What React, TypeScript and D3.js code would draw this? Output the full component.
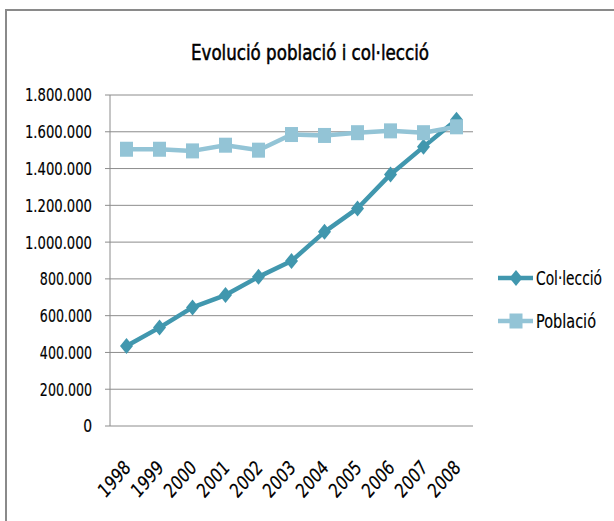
import React from "react";
import * as d3 from "d3";

const years = ["1998","1999","2000","2001","2002","2003","2004","2005","2006","2007","2008"];
const colleccio = [435000, 535000, 645000, 712000, 811000, 897000, 1056000, 1183000, 1368000, 1518000, 1665000];
const poblacio = [1505000, 1505000, 1496000, 1527000, 1500000, 1585000, 1580000, 1595000, 1605000, 1595000, 1627000];
const yTicks = [0, 200000, 400000, 600000, 800000, 1000000, 1200000, 1400000, 1600000, 1800000];
const seriesNames = ["Col·lecció", "Població"];
const colors = ["#4197AE", "#93C4D6"];

const FONT = "'DejaVu Sans Condensed', 'Liberation Sans Narrow', sans-serif";
const SY = 1.15;

const fmt = (v: number) => v === 0 ? "0" : d3.format(",")(v).replace(/,/g, ".");

export default function App() {
  const W = 614, H = 521;
  const left = 110, right = 473, top = 95, bottom = 426;
  const x = d3.scaleBand<string>().domain(years).range([left, right]);
  const y = d3.scaleLinear().domain([0, 1800000]).range([bottom, top]);
  const cx = (yr: string) => (x(yr) as number) + x.bandwidth() / 2;
  const line = d3.line<number>().x((_, i) => cx(years[i])).y(d => y(d));
  const diamond = (px: number, py: number) => `M${px},${py - 8}L${px + 6.5},${py}L${px},${py + 8}L${px - 6.5},${py}Z`;

  return (
    <svg width={W} height={H} style={{ position: "absolute", left: 0, top: 0, background: "#fff" }} fontFamily={FONT}>
      <rect x={0} y={0} width={W} height={H} fill="#fff" />
      <rect x={6} y={10} width={700} height={700} fill="none" stroke="#8a8a8a" strokeWidth={2} />
      <text transform={`translate(310,60) scale(1,${SY})`} textAnchor="middle" fontSize={19} fill="#000" stroke="#000" strokeWidth={0.45}
        textLength={238} lengthAdjust="spacingAndGlyphs">Evolució població i col·lecció</text>
      {yTicks.map(t => (
        <g key={t}>
          {t > 0 && <line x1={left} x2={right} y1={y(t)} y2={y(t)} stroke="#8c8c8c" strokeWidth={1} />}
          <line x1={left - 5} x2={left} y1={y(t)} y2={y(t)} stroke="#8c8c8c" strokeWidth={1} />
          <text transform={`translate(92,${y(t)}) scale(1,${SY})`} dy="0.36em" textAnchor="end" fontSize={15.5} fill="#000" stroke="#000" strokeWidth={0.15}
            textLength={t === 0 ? undefined : fmt(t).length * 7.45} lengthAdjust="spacingAndGlyphs">{fmt(t)}</text>
        </g>
      ))}
      <line x1={left} x2={left} y1={top} y2={bottom} stroke="#8c8c8c" strokeWidth={1} />
      <line x1={left} x2={right} y1={bottom} y2={bottom} stroke="#8c8c8c" strokeWidth={1} />
      {years.map(yr => (
        <text key={yr} transform={`translate(${cx(yr) + 5},${bottom + 43}) scale(1,${SY}) rotate(-45)`} textAnchor="end" fontSize={17.5} fill="#000" stroke="#000" strokeWidth={0.15}
          textLength={37} lengthAdjust="spacingAndGlyphs">{yr}</text>
      ))}
      <path d={line(colleccio) || ""} fill="none" stroke={colors[0]} strokeWidth={4.5} strokeLinejoin="round" />
      {colleccio.map((v, i) => (
        <path key={i} d={diamond(cx(years[i]), y(v))} fill={colors[0]} />
      ))}
      <path d={line(poblacio) || ""} fill="none" stroke={colors[1]} strokeWidth={4.5} strokeLinejoin="round" />
      {poblacio.map((v, i) => (
        <rect key={i} x={cx(years[i]) - 6.5} y={y(v) - 7.5} width={13} height={15} fill={colors[1]} />
      ))}
      {seriesNames.map((n, i) => {
        const ly = 278 + i * 43;
        return (
          <g key={n}>
            <line x1={498} x2={533} y1={ly} y2={ly} stroke={colors[i]} strokeWidth={4.5} />
            {i === 0 ? <path d={diamond(516, ly)} fill={colors[0]} /> : <rect x={509.5} y={ly - 7.5} width={13} height={15} fill={colors[1]} />}
            <text transform={`translate(536,${ly}) scale(1,${SY})`} dy="0.36em" fontSize={17} fill="#000" stroke="#000" strokeWidth={0.15}
              textLength={i === 0 ? 66 : 60} lengthAdjust="spacingAndGlyphs">{n}</text>
          </g>
        );
      })}
    </svg>
  );
}
